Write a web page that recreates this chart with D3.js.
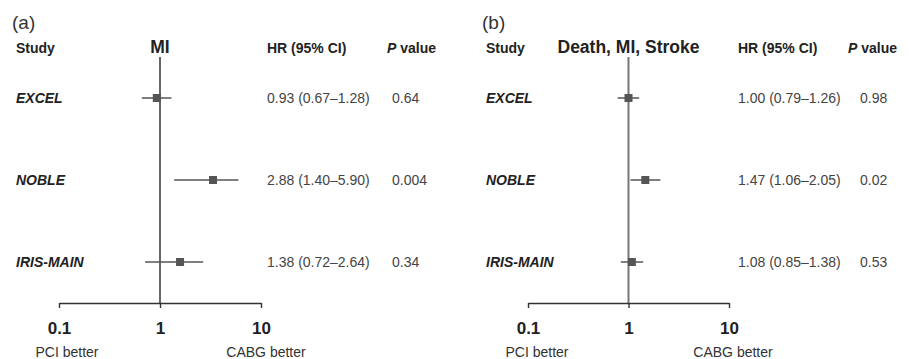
<!DOCTYPE html>
<html>

<head>
	<meta charset="utf-8">
	<title>Forest plots</title>
	<style>
		body { margin: 0; background: #fff; }
		svg { font-family: "Liberation Sans", Arial, sans-serif; }
	</style>
</head>

<body>
	<svg class="svg" width="909" height="359"></svg>

	<script src="https://d3js.org/d3.v7.min.js"></script>
	<script>
		//data
		var studies = ["EXCEL", "NOBLE", "IRIS-MAIN"];
		var tickVals = [0.1, 1, 10];

		//panel (a) MI
		var miHR = [0.93, 2.88, 1.38];
		var miLo = [0.67, 1.40, 0.72];
		var miHi = [1.28, 5.90, 2.64];
		var miP = ["0.64", "0.004", "0.34"];
		//where the squares actually sit in the figure
		var miMark = [0.93, 3.35, 1.58];

		//panel (b) death, MI, stroke
		var dmsHR = [1.00, 1.47, 1.08];
		var dmsLo = [0.79, 1.06, 0.85];
		var dmsHi = [1.26, 2.05, 1.38];
		var dmsP = ["0.98", "0.02", "0.53"];

		var fmt = d3.format(".2f");

		var svg = d3.select("svg");

		var y = d3.scalePoint()
			.domain(studies)
			.range([98, 262]);

		var axisY = 303;

		function panel(opt) {
			var g = svg.append("g");
			var x = d3.scaleLog()
				.domain([0.1, 10])
				.range(opt.range);

			//panel letter
			g.append("text")
				.attr("x", opt.left - 4)
				.attr("y", 29)
				.attr("font-size", 19)
				.attr("fill", "#333")
				.text(opt.letter);

			//headers
			var head = g.append("g")
				.attr("font-size", 14)
				.attr("font-weight", "bold")
				.attr("fill", "#222");
			head.append("text")
				.attr("x", opt.left)
				.attr("y", 53)
				.text("Study");
			head.append("text")
				.attr("x", x(1))
				.attr("y", 53)
				.attr("text-anchor", "middle")
				.attr("font-size", 17.5)
				.text(opt.title);
			head.append("text")
				.attr("x", opt.hrX)
				.attr("y", 53)
				.text("HR (95% CI)");
			var pv = head.append("text")
				.attr("x", opt.pHeadX)
				.attr("y", 53);
			pv.append("tspan").attr("font-style", "italic").text("P");
			pv.append("tspan").text(" value");

			//reference line at 1
			g.append("line")
				.attr("x1", x(1))
				.attr("x2", x(1))
				.attr("y1", 57)
				.attr("y2", axisY)
				.attr("stroke", opt.refColor)
				.attr("stroke-width", opt.refWidth);

			//axis
			var ax = g.append("g")
				.attr("transform", "translate(0," + axisY + ")")
				.call(d3.axisBottom(x)
					.tickValues(tickVals)
					.tickSizeInner(5)
					.tickSizeOuter(0)
					.tickFormat(function(d) { return d3.format("~g")(d); }));
			ax.select(".domain").attr("stroke", "#333").attr("stroke-width", 1.4);
			ax.selectAll(".tick line").attr("stroke", "#333").attr("stroke-width", 1.4);
			ax.selectAll(".tick text")
				.attr("y", 0)
				.attr("dy", 31)
				.attr("font-size", 17)
				.attr("font-weight", "bold")
				.attr("font-family", "Liberation Sans, Arial, sans-serif")
				.attr("fill", "#222");

			//favours labels
			g.append("text")
				.attr("x", opt.pciX)
				.attr("y", 357)
				.attr("text-anchor", "middle")
				.attr("font-size", 14)
				.attr("fill", "#333")
				.text("PCI better");
			g.append("text")
				.attr("x", opt.cabgX)
				.attr("y", 357)
				.attr("text-anchor", "middle")
				.attr("font-size", 14)
				.attr("fill", "#333")
				.text("CABG better");

			//rows
			studies.forEach(function(s, i) {
				var yy = y(s);
				g.append("text")
					.attr("x", opt.left)
					.attr("y", yy + 5)
					.attr("font-size", 14)
					.attr("font-weight", "bold")
					.attr("font-style", "italic")
					.attr("fill", "#222")
					.text(s);

				g.append("line")
					.attr("x1", x(opt.lo[i]))
					.attr("x2", x(opt.hi[i]))
					.attr("y1", yy)
					.attr("y2", yy)
					.attr("stroke", "#555")
					.attr("stroke-width", 1.6)
					.attr("stroke-linecap", "round");

				var sz = 8;
				g.append("rect")
					.attr("x", x(opt.mark[i]) - sz / 2)
					.attr("y", yy - sz / 2)
					.attr("width", sz)
					.attr("height", sz)
					.attr("fill", "#555");

				g.append("text")
					.attr("x", opt.hrX)
					.attr("y", yy + 5)
					.attr("font-size", 14)
					.attr("fill", "#444")
					.text(fmt(opt.hr[i]) + " (" + fmt(opt.lo[i]) + "\u2013" + fmt(opt.hi[i]) + ")");

				g.append("text")
					.attr("x", opt.pX)
					.attr("y", yy + 5)
					.attr("font-size", 14)
					.attr("fill", "#444")
					.text(opt.p[i]);
			});
		}

		panel({
			letter: "(a)",
			title: "MI",
			left: 16,
			range: [59, 261],
			hrX: 267,
			pHeadX: 387,
			pX: 392,
			pciX: 67,
			cabgX: 266,
			refColor: "#333",
			refWidth: 1.5,
			hr: miHR,
			lo: miLo,
			hi: miHi,
			p: miP,
			mark: miMark
		});

		panel({
			letter: "(b)",
			title: "Death, MI, Stroke",
			left: 486,
			range: [528, 729],
			hrX: 738,
			pHeadX: 848,
			pX: 860,
			pciX: 537,
			cabgX: 733,
			refColor: "#777",
			refWidth: 2,
			hr: dmsHR,
			lo: dmsLo,
			hi: dmsHi,
			p: dmsP,
			mark: dmsHR
		});

	</script>
</body>

</html>
